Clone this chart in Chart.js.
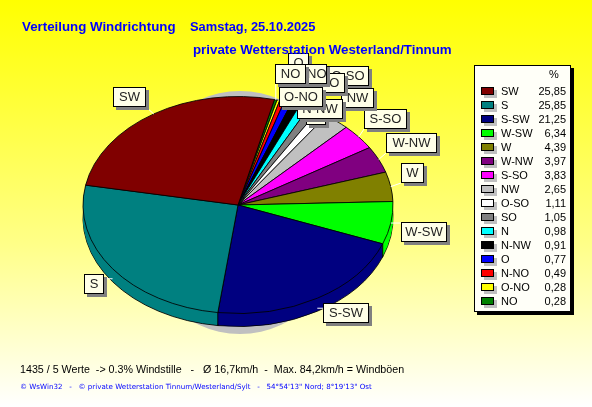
<!DOCTYPE html>
<html>
<head>
<meta charset="utf-8">
<script src="https://cdn.jsdelivr.net/npm/chart.js@4"></script>
<style>
html,body{margin:0;padding:0;overflow:hidden}
canvas{display:block;background:linear-gradient(#ffff00 0%,#ffff38 25%,#ffff88 60%,#ffffff 100%)}
</style>
</head>
<body>
<canvas id="chartWind" width="592" height="407"></canvas>
<script>
// legend order, biggest first
const directions = ['SW','S','S-SW','W-SW','W','W-NW','S-SO','NW','O-SO','SO','N','N-NW','O','N-NO','O-NO','NO'];
const percents = [25.85,25.85,21.25,6.34,4.39,3.97,3.83,2.65,1.11,1.05,0.98,0.91,0.77,0.49,0.28,0.28];
const percentLabels = ['25,85','25,85','21,25','6,34','4,39','3,97','3,83','2,65','1,11','1,05','0,98','0,91','0,77','0,49','0,28','0,28'];
const colors = ['#800000','#008080','#000080','#00ff00','#808000','#800080','#ff00ff','#c0c0c0','#ffffff','#808080','#00ffff','#000000','#0000ff','#ff0000','#ffff00','#008000'];

// callout boxes, drawn in this order (x, y of top left, width)
const callouts = [
  ['SW',113,87,33],['S',84,274,20],['S-SW',323,303,46],['W-SW',401,222,46],['W',401,163,23],
  ['W-NW',386,133,51],['S-SO',364,109,43],['O',288,53,21],['O-SO',327,66,42],['NW',341,88,33],
  ['N',306,105,20],['SO',315,73,30],['N-NO',293,64,34],['NO',275,64,31],['N-NW',297,99,46],['O-NO',279,87,44]
];

const squash = 0.7;
const depth = 13;
const sans = '"Liberation Sans", Arial, sans-serif';

function withoutBorder(arc, fn) {
  const saved = arc.options;
  arc.options = Object.assign({}, saved, {borderWidth: 0});
  fn();
  arc.options = saved;
}

function squashed(ctx, x, y) {
  ctx.translate(x, y);
  ctx.scale(1, squash);
  ctx.translate(-x, -y);
}

const pie3d = {
  id: 'pie3d',
  beforeDatasetsDraw(chart) {
    const ctx = chart.ctx;
    const arcs = chart.getDatasetMeta(0).data;
    const cx = arcs[0].x, cy = arcs[0].y, r = arcs[0].outerRadius;
    // drop shadow, only peeks out at the top and the bottom
    ctx.save();
    ctx.fillStyle = '#c0c0c0';
    ctx.beginPath();
    ctx.ellipse(cx + 2, cy + 7.5, 108, 121.5, 0, 0, Math.PI * 2);
    ctx.fill();
    ctx.restore();
    // side wall, bottom layer keeps its outline
    for (let d = depth; d > 0; d--) {
      ctx.save();
      ctx.translate(0, d);
      squashed(ctx, cx, cy);
      arcs.forEach(a => {
        if (d === depth) a.draw(ctx);
        else withoutBorder(a, () => a.draw(ctx));
      });
      ctx.restore();
    }
    // seams on the front of the wall
    ctx.strokeStyle = '#000';
    ctx.lineWidth = 1;
    arcs.forEach(a => {
      if (Math.sin(a.endAngle) > 0) {
        const x = cx + Math.cos(a.endAngle) * r;
        const y = cy + Math.sin(a.endAngle) * r * squash;
        ctx.beginPath();
        ctx.moveTo(x, y);
        ctx.lineTo(x, y + depth);
        ctx.stroke();
      }
    });
    ctx.save();
    squashed(ctx, cx, cy);
  },
  afterDatasetsDraw(chart) {
    const ctx = chart.ctx;
    ctx.restore();
    const arcs = chart.getDatasetMeta(0).data;
    drawCallouts(ctx, arcs);
    drawLegend(ctx);
    drawTexts(ctx);
  }
};

function drawCallouts(ctx, arcs) {
  const byName = {};
  [...directions].reverse().forEach((d, i) => byName[d] = arcs[i]);
  // leader lines first
  callouts.forEach(([name, x, y, w]) => {
    const a = byName[name];
    const mid = (a.startAngle + a.endAngle) / 2;
    const px = a.x + Math.cos(mid) * a.outerRadius;
    let py = a.y + Math.sin(mid) * a.outerRadius * squash;
    if (Math.sin(mid) > 0.2) py += depth - 3;
    const bx = Math.min(Math.max(px, x), x + w);
    const by = Math.min(Math.max(py, y), y + 20);
    ctx.strokeStyle = '#ffffff';
    ctx.lineWidth = 1;
    ctx.beginPath();
    ctx.moveTo(px, py);
    ctx.lineTo(bx, by);
    ctx.stroke();
  });
  callouts.forEach(([name, x, y, w]) => {
    ctx.fillStyle = '#808080';
    ctx.fillRect(x + 3, y + 3, w, 20);
    ctx.fillStyle = '#ffffe8';
    ctx.fillRect(x, y, w, 20);
    ctx.strokeStyle = '#000';
    ctx.lineWidth = 1;
    ctx.strokeRect(x + 0.5, y + 0.5, w - 1, 19);
    ctx.fillStyle = '#222';
    ctx.font = '13px ' + sans;
    ctx.textAlign = 'center';
    ctx.textBaseline = 'middle';
    ctx.fillText(name, x + w / 2, y + 10);
  });
}

function drawLegend(ctx) {
  ctx.fillStyle = '#000';
  ctx.fillRect(477, 68, 97, 247);
  ctx.fillStyle = '#fffff8';
  ctx.fillRect(474, 65, 97, 247);
  ctx.strokeStyle = '#000';
  ctx.lineWidth = 1;
  ctx.strokeRect(474.5, 65.5, 96, 246);
  ctx.font = '11px ' + sans;
  ctx.textBaseline = 'middle';
  ctx.fillStyle = '#000';
  ctx.textAlign = 'left';
  ctx.fillText('%', 549, 75);
  directions.forEach((d, i) => {
    const y = 91 + i * 14;
    ctx.fillStyle = '#c0c0c0';
    ctx.fillRect(484, y - 1, 13, 8);
    ctx.fillStyle = colors[i];
    ctx.fillRect(481, y - 4, 13, 8);
    ctx.strokeStyle = '#000';
    ctx.strokeRect(481.5, y - 3.5, 12, 7);
    ctx.fillStyle = '#000';
    ctx.textAlign = 'left';
    ctx.fillText(d, 501, y + 0.5);
    ctx.textAlign = 'right';
    ctx.fillText(percentLabels[i], 566, y + 0.5);
  });
}

function drawTexts(ctx) {
  ctx.textBaseline = 'alphabetic';
  ctx.textAlign = 'left';
  ctx.fillStyle = '#0000ff';
  ctx.font = 'bold 13.3px ' + sans;
  ctx.fillText('Verteilung Windrichtung', 22, 31);
  ctx.font = 'bold 12.9px ' + sans;
  ctx.fillText('Samstag, 25.10.2025', 190, 31);
  ctx.font = 'bold 13.3px ' + sans;
  ctx.fillText('private Wetterstation Westerland/Tinnum', 193, 54);
  ctx.fillStyle = '#000';
  ctx.font = '10.7px ' + sans;
  ctx.fillText('1435 / 5 Werte  -> 0.3% Windstille   -   \u00d8 16,7km/h  -  Max. 84,2km/h = Windb\u00f6en', 20, 373);
  ctx.fillStyle = '#0000ff';
  ctx.font = '7.1px "DejaVu Sans", sans-serif';
  ctx.fillText('\u00a9 WsWin32   -   \u00a9 private Wetterstation Tinnum/Westerland/Sylt   -   54\u00b054\'13" Nord; 8\u00b019\'13" Ost', 20, 389);
}

new Chart(document.getElementById('chartWind'), {
  type: 'pie',
  data: {
    labels: [...directions].reverse(),
    datasets: [{
      data: [...percents].reverse(),
      backgroundColor: [...colors].reverse(),
      borderColor: '#000000',
      borderWidth: 1,
      radius: 155
    }]
  },
  options: {
    responsive: false,
    animation: false,
    rotation: 13.6,
    layout: {padding: {left: 0, right: 116, top: 3, bottom: 0}},
    plugins: {legend: {display: false}, tooltip: {enabled: false}}
  },
  plugins: [pie3d]
});
</script>
</body>
</html>
